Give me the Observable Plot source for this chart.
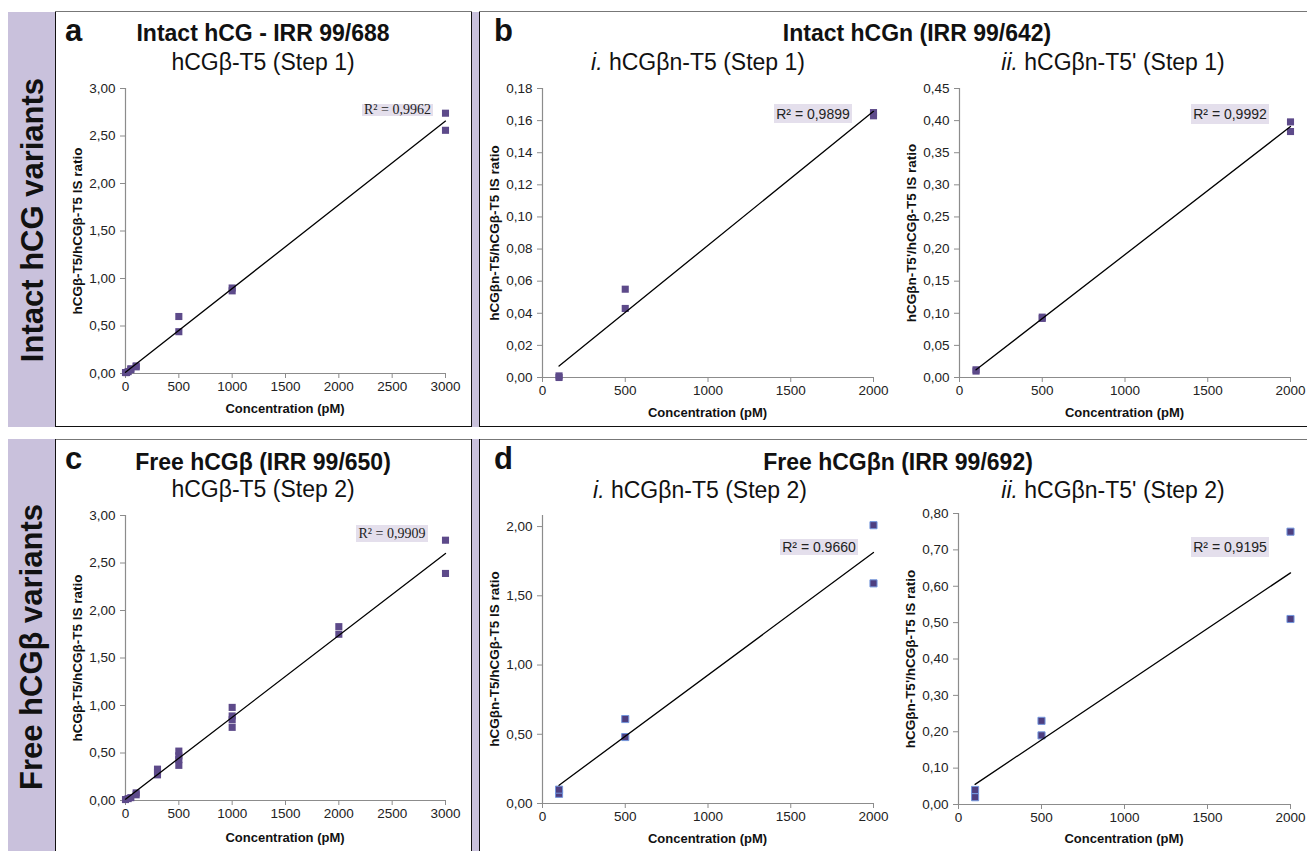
<!DOCTYPE html>
<html><head><meta charset="utf-8">
<script src="https://cdn.jsdelivr.net/npm/d3@7"></script>
<script src="https://cdn.jsdelivr.net/npm/@observablehq/plot@0.6"></script>
<style>
html,body{margin:0;padding:0;background:#fff;overflow:hidden;}
#root{position:relative;width:1307px;height:851px;font-family:"Liberation Sans",Arial,sans-serif;color:#111;}
.band{position:absolute;background:#c9c1dc;}
.hl{position:absolute;height:0;border-top:1.5px solid #777;}
.hb{position:absolute;height:0;border-top:1.5px solid #111;}
.vl{position:absolute;width:0;border-left:1.5px solid #111;}
.t{position:absolute;white-space:nowrap;transform:translate(-50%,-50%);line-height:1;}
.side{position:absolute;white-space:nowrap;font-weight:bold;font-size:31px;line-height:1;transform:translate(-50%,-50%) rotate(-90deg);color:#111;}
.letter{position:absolute;font-weight:bold;font-size:31px;line-height:1;}
.title{font-weight:bold;font-size:23px;}
.sub{font-size:23px;}
.xt{font-weight:bold;font-size:13px;}
.yt{font-weight:bold;font-size:13.5px;transform:translate(-50%,-50%) rotate(-90deg);}
.r2{position:absolute;background:#e4dfec;color:#222;display:flex;align-items:center;justify-content:center;white-space:nowrap;line-height:1;}
.serif{font-family:"Liberation Serif","Times New Roman",serif;font-size:14px;}
.sans{font-family:"Liberation Sans",Arial,sans-serif;font-size:14px;}
svg{position:absolute;}
</style>
</head><body><div id="root"></div>
<script>
// ---------- data ----------
const ticks3000 = [0, 500, 1000, 1500, 2000, 2500, 3000];
const ticks2000 = [0, 500, 1000, 1500, 2000];
const yTicksA = [0, 0.5, 1, 1.5, 2, 2.5, 3];
const yTicksBi = [0, 0.02, 0.04, 0.06, 0.08, 0.10, 0.12, 0.14, 0.16, 0.18];
const yTicksBii = [0, 0.05, 0.10, 0.15, 0.20, 0.25, 0.30, 0.35, 0.40, 0.45];
const yTicksC = [0, 0.5, 1, 1.5, 2, 2.5, 3];
const yTicksDi = [0, 0.5, 1, 1.5, 2];
const yTicksDii = [0, 0.1, 0.2, 0.3, 0.4, 0.5, 0.6, 0.7, 0.8];

// a: Intact hCG - hCGβ-T5 (Step 1)
const concA  = [0, 10, 25, 50, 50, 100, 100, 500, 500, 1000, 1000, 3000, 3000];
const ratioA = [0.01, 0.01, 0.02, 0.04, 0.05, 0.07, 0.08, 0.44, 0.60, 0.87, 0.90, 2.56, 2.74];
// b-i: Intact hCGn - hCGβn-T5 (Step 1)
const concBi  = [100, 100, 500, 500, 2000, 2000];
const ratioBi = [0.000, 0.001, 0.043, 0.055, 0.163, 0.165];
// b-ii: Intact hCGn - hCGβn-T5' (Step 1)
const concBii  = [100, 100, 500, 500, 2000, 2000];
const ratioBii = [0.010, 0.012, 0.092, 0.094, 0.383, 0.398];
// c: Free hCGβ - hCGβ-T5 (Step 2)
const concC  = [0, 25, 50, 100, 100, 300, 300, 300, 500, 500, 500, 500, 1000, 1000, 1000, 1000, 2000, 2000, 3000, 3000];
const ratioC = [0.01, 0.02, 0.03, 0.06, 0.08, 0.27, 0.30, 0.33, 0.37, 0.43, 0.47, 0.52, 0.77, 0.85, 0.89, 0.98, 1.75, 1.83, 2.39, 2.74];
// d-i: Free hCGβn - hCGβn-T5 (Step 2)
const concDi  = [100, 100, 500, 500, 2000, 2000];
const ratioDi = [0.07, 0.10, 0.48, 0.61, 1.59, 2.01];
// d-ii: Free hCGβn - hCGβn-T5' (Step 2)
const concDii  = [100, 100, 500, 500, 2000, 2000];
const ratioDii = [0.02, 0.04, 0.19, 0.23, 0.51, 0.75];

const sideLabels = ["Intact hCG variants", "Free hCGβ variants"];
const panelLetters = ["a", "b", "c", "d"];
const panelTitles = ["Intact hCG - IRR 99/688", "Intact hCGn (IRR 99/642)", "Free hCGβ (IRR 99/650)", "Free hCGβn (IRR 99/692)"];
const xTitle = "Concentration (pM)";
const yTitles = ["hCGβ-T5/hCGβ-T5 IS ratio", "hCGβn-T5/hCGβ-T5 IS ratio", "hCGβn-T5'/hCGβ-T5 IS ratio"];
const r2Labels = ["R² = 0,9962", "R² = 0,9899", "R² = 0,9992", "R² = 0,9909", "R² = 0.9660", "R² = 0,9195"];

// ---------- layout ----------
const root = document.getElementById("root");
function add(html) { root.insertAdjacentHTML("beforeend", html); }

add(`<div class="band" style="left:8px;top:12px;width:47px;height:415px"></div>`);
add(`<div class="band" style="left:8px;top:439px;width:47px;height:412px"></div>`);
add(`<div class="band" style="left:472px;top:12px;width:7px;height:415px"></div>`);
add(`<div class="band" style="left:472px;top:439px;width:7px;height:412px"></div>`);
add(`<div class="hl" style="left:55px;top:11px;width:417px"></div>`);
add(`<div class="hl" style="left:479px;top:11px;width:828px"></div>`);
add(`<div class="hl" style="left:55px;top:439px;width:417px"></div>`);
add(`<div class="hl" style="left:479px;top:439px;width:828px"></div>`);
add(`<div class="hb" style="left:55px;top:426px;width:417px"></div>`);
add(`<div class="hb" style="left:479px;top:426px;width:828px"></div>`);
add(`<div class="vl" style="left:55px;top:12px;height:415px"></div>`);
add(`<div class="vl" style="left:55px;top:439px;height:412px"></div>`);
add(`<div class="vl" style="left:471px;top:12px;height:415px"></div>`);
add(`<div class="vl" style="left:471px;top:439px;height:412px"></div>`);
add(`<div class="vl" style="left:479px;top:12px;height:415px"></div>`);
add(`<div class="vl" style="left:479px;top:439px;height:412px"></div>`);

add(`<div class="side" style="left:32px;top:220px">${sideLabels[0]}</div>`);
add(`<div class="side" style="left:31px;top:647px">${sideLabels[1]}</div>`);

add(`<div class="letter" style="left:65px;top:15px">${panelLetters[0]}</div>`);
add(`<div class="letter" style="left:494px;top:15px">${panelLetters[1]}</div>`);
add(`<div class="letter" style="left:65px;top:443px">${panelLetters[2]}</div>`);
add(`<div class="letter" style="left:494px;top:443px">${panelLetters[3]}</div>`);

add(`<div class="t title" style="left:263px;top:33px">${panelTitles[0]}</div>`);
add(`<div class="t sub" style="left:263px;top:62px">hCGβ-T5 (Step 1)</div>`);
add(`<div class="t title" style="left:917px;top:33px">${panelTitles[1]}</div>`);
add(`<div class="t sub" style="left:698px;top:62px"><i>i.</i> hCGβn-T5 (Step 1)</div>`);
add(`<div class="t sub" style="left:1113px;top:62px"><i>ii.</i> hCGβn-T5' (Step 1)</div>`);
add(`<div class="t title" style="left:263px;top:462px">${panelTitles[2]}</div>`);
add(`<div class="t sub" style="left:263px;top:489px">hCGβ-T5 (Step 2)</div>`);
add(`<div class="t title" style="left:898px;top:462px">${panelTitles[3]}</div>`);
add(`<div class="t sub" style="left:700px;top:490px"><i>i.</i> hCGβn-T5 (Step 2)</div>`);
add(`<div class="t sub" style="left:1113px;top:490px"><i>ii.</i> hCGβn-T5' (Step 2)</div>`);

const fmt2 = d => d.toFixed(2).replace(".", ",");
const purple = "#5d4a8a";

function panel(cfg) {
  const mL = 62, mR = 16, mT = 10, mB = 30;
  const width = cfg.x1 - cfg.x0 + mL + mR;
  const height = cfg.yBot - cfg.yTop + mT + mB;
  const data = cfg.xs.map((x, i) => ({x, y: cfg.ys[i]}));
  const svg = Plot.plot({
    width, height,
    marginLeft: mL, marginRight: mR, marginTop: mT, marginBottom: mB,
    x: {domain: cfg.xDomain},
    y: {domain: cfg.yDomain},
    style: {fontFamily: '"Liberation Sans", Arial, sans-serif', fontSize: "13.5px", color: "#222", background: "transparent", overflow: "visible"},
    marks: [
      Plot.axisX({ticks: cfg.xTicks, tickSize: 5, tickPadding: 3, tickFormat: d => String(d), label: null, stroke: "#8c8c8c", fill: "#222", fontSize: 13.5}),
      Plot.axisY({ticks: cfg.yTicks, tickSize: 5, tickPadding: 5, tickFormat: fmt2, label: null, stroke: "#8c8c8c", fill: "#222", fontSize: 13.5}),
      Plot.ruleX([cfg.xDomain[0]], {stroke: "#8c8c8c", strokeWidth: 1.2}),
      Plot.ruleY([cfg.yDomain[0]], {stroke: "#8c8c8c", strokeWidth: 1.2}),
      Plot.dot(data, {x: "x", y: "y", symbol: "square", r: 4, fill: cfg.fill || purple, stroke: cfg.stroke || "none", strokeWidth: 1}),
      Plot.linearRegressionY(data, {x: "x", y: "y", ci: 0, stroke: "#000", strokeWidth: 1.3})
    ]
  });
  svg.style.left = (cfg.x0 - mL) + "px";
  svg.style.top = (cfg.yTop - mT) + "px";
  root.appendChild(svg);
  add(`<div class="t xt" style="left:${(cfg.x0 + cfg.x1) / 2}px;top:${cfg.xTitleY}px">${xTitle}</div>`);
  add(`<div class="t yt" style="left:${cfg.yTitleX}px;top:${(cfg.yTop + cfg.yBot) / 2}px">${cfg.yTitle}</div>`);
  const b = cfg.r2box;
  add(`<div class="r2 ${cfg.r2font}" style="left:${b[0]}px;top:${b[1]}px;width:${b[2] - b[0]}px;height:${b[3] - b[1]}px">${cfg.r2}</div>`);
}

panel({x0: 125, x1: 445, yTop: 88, yBot: 373, xDomain: [0, 3000], yDomain: [0, 3], xTicks: ticks3000, yTicks: yTicksA,
  xs: concA, ys: ratioA, xTitleY: 408, yTitleX: 78, yTitle: yTitles[0], r2: r2Labels[0], r2box: [362, 104, 433, 116], r2font: "serif"});
panel({x0: 542, x1: 873, yTop: 88, yBot: 377, xDomain: [0, 2000], yDomain: [0, 0.18], xTicks: ticks2000, yTicks: yTicksBi,
  xs: concBi, ys: ratioBi, xTitleY: 412, yTitleX: 495, yTitle: yTitles[1], r2: r2Labels[1], r2box: [774, 104, 852, 123], r2font: "sans"});
panel({x0: 959, x1: 1290, yTop: 88, yBot: 377, xDomain: [0, 2000], yDomain: [0, 0.45], xTicks: ticks2000, yTicks: yTicksBii,
  xs: concBii, ys: ratioBii, xTitleY: 412, yTitleX: 912, yTitle: yTitles[2], r2: r2Labels[2], r2box: [1191, 104, 1269, 124], r2font: "sans"});
panel({x0: 125, x1: 445, yTop: 515, yBot: 800, xDomain: [0, 3000], yDomain: [0, 3], xTicks: ticks3000, yTicks: yTicksC,
  xs: concC, ys: ratioC, xTitleY: 837, yTitleX: 78, yTitle: yTitles[0], r2: r2Labels[3], r2box: [356, 525, 428, 542], r2font: "serif"});
panel({x0: 542, x1: 873, yTop: 515, yBot: 803, xDomain: [0, 2000], yDomain: [0, 2.08], xTicks: ticks2000, yTicks: yTicksDi,
  xs: concDi, ys: ratioDi, xTitleY: 838, yTitleX: 495, yTitle: yTitles[1], r2: r2Labels[4], r2box: [780, 539, 858, 555], r2font: "sans",
  fill: "#4e3f80", stroke: "#7396dc"});
panel({x0: 958, x1: 1290, yTop: 513, yBot: 804, xDomain: [0, 2000], yDomain: [0, 0.8], xTicks: ticks2000, yTicks: yTicksDii,
  xs: concDii, ys: ratioDii, xTitleY: 838, yTitleX: 911, yTitle: yTitles[2], r2: r2Labels[5], r2box: [1191, 537, 1269, 557], r2font: "sans",
  fill: "#4e3f80", stroke: "#7396dc"});
</script>
</body></html>
